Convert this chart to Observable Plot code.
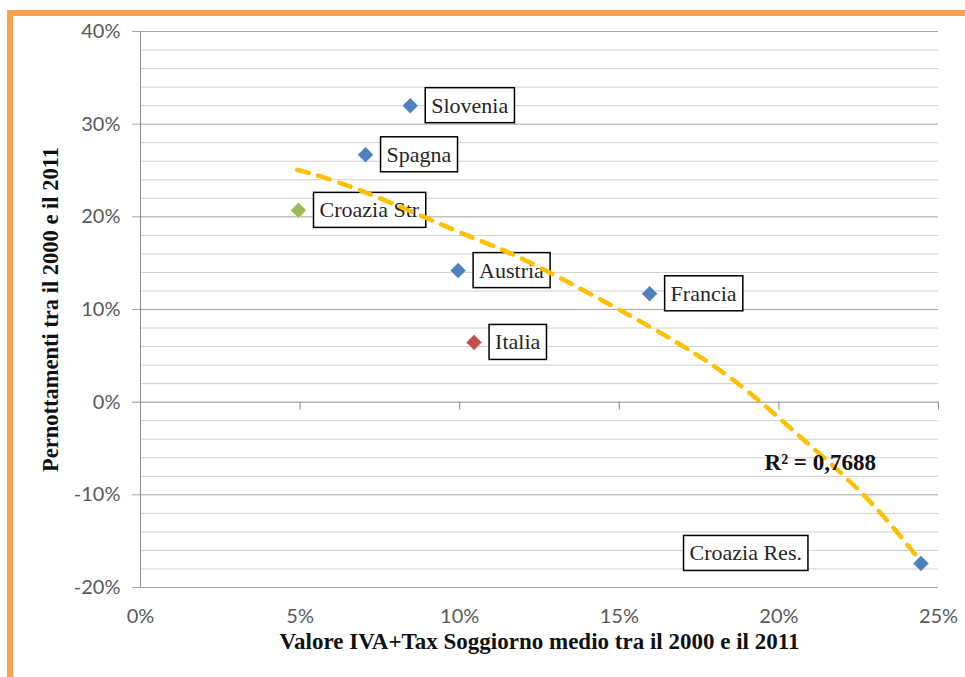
<!DOCTYPE html>
<html><head><meta charset="utf-8">
<script src="https://cdn.jsdelivr.net/npm/d3@7"></script>
<script src="https://cdn.jsdelivr.net/npm/@observablehq/plot@0.6"></script>
<style>
body{margin:0;background:#fff;overflow:hidden}
#wrap{position:relative;width:965px;height:677px;overflow:hidden;background:#fff}
#border{position:absolute;left:7px;top:10px;width:2000px;height:2000px;border-left:6px solid #F9A34F;border-top:6px solid #F9A34F;pointer-events:none}
</style></head><body><div id="wrap"><div id="border"></div></div>
<script>
// ---- data ----
const countries = ["Slovenia", "Spagna", "Croazia Str", "Austria", "Francia", "Italia", "Croazia Res."];
const ivaTax = [8.45, 7.05, 4.95, 9.95, 15.95, 10.45, 24.45];          // % x
const pernottamenti = [32.0, 26.7, 20.7, 14.2, 11.7, 6.45, -17.4];     // % y
const colorGroup = ["blue", "blue", "green", "blue", "blue", "red", "blue"];
// polynomial trendline (order 2)
const trendX = [4.91, 7.0, 10.23, 12.0, 15.04, 18.17, 20.46, 22.65, 24.45];
const trendY = [25.08, 22.7, 18.0, 15.4, 9.9, 3.4, -3.1, -10.0, -17.2];
const yTicks = [-20, -10, 0, 10, 20, 30, 40];
const xTicks = [0, 5, 10, 15, 20, 25];
const yMinor = [-18,-16,-14,-12,-8,-6,-4,-2,2,4,6,8,12,14,16,18,22,24,26,28,32,34,36,38];
const r2Label = "R² = 0,7688";
const xTitle = "Valore IVA+Tax Soggiorno medio tra il 2000 e il 2011";
const yTitle = "Pernottamenti tra il 2000 e il 2011";

const points = countries.map((c, i) => ({name: c, x: ivaTax[i], y: pernottamenti[i], g: colorGroup[i]}));
const trend = trendX.map((x, i) => ({x, y: trendY[i]}));

const colors = {blue: "#4F81BD", green: "#9BBB59", red: "#C0504D"};
const labelFont = "Liberation Serif";
const tickFont = "Lato";

const chart = Plot.plot({
  width: 965, height: 677,
  marginLeft: 140, marginRight: 27, marginTop: 31, marginBottom: 90,
  x: {domain: [0, 25], axis: null},
  y: {domain: [-20, 40], axis: null},
  style: {background: "transparent"},
  marks: [
    Plot.ruleY(yMinor, {y: d => d, stroke: "#cfcfcf", strokeWidth: 1}),
    Plot.ruleY(yTicks.filter(d => d !== 0), {y: d => d, x1: -0.25, x2: 25, stroke: "#a6a6a6", strokeWidth: 1}),
    Plot.ruleY([0], {y: d => d, x1: -0.25, x2: 25, stroke: "#8c8c8c", strokeWidth: 1}),
    Plot.ruleX([0], {x: d => d, y1: -20, y2: 40, stroke: "#8c8c8c", strokeWidth: 1}),
    Plot.ruleX(xTicks.filter(d => d !== 0), {x: d => d, y1: 0, y2: -0.85, stroke: "#8c8c8c", strokeWidth: 1}),
    Plot.text(yTicks, {x: 0, y: d => d, text: d => d + "%", textAnchor: "end", dx: -20, fontSize: 20, fontFamily: tickFont, fill: "#595959"}),
    Plot.text(xTicks, {x: d => d, y: -20, text: d => d + "%", dy: 29, fontSize: 20, fontFamily: tickFont, fill: "#595959"}),
    Plot.text(points.filter(d => d.name !== "Croazia Res."), {x: "x", y: "y", text: "name", textAnchor: "start", dx: 21, fontSize: 22, fontFamily: labelFont, fill: "#262626"}),
    Plot.text(points.filter(d => d.name === "Croazia Res."), {x: "x", y: "y", text: "name", textAnchor: "end", dx: -119, dy: -10, fontSize: 22, fontFamily: labelFont, fill: "#262626"}),
    Plot.line(trend, {x: "x", y: "y", curve: "natural", stroke: "#FFC000", strokeWidth: 4.5, strokeDasharray: "12,10", strokeLinecap: "round"}),
    Plot.dot(points, {x: "x", y: "y", symbol: "diamond2", r: 7.2, fill: d => colors[d.g], stroke: "white", strokeWidth: 0.5}),
    Plot.text([r2Label], {x: 19.55, y: -6.5, text: d => d, textAnchor: "start", fontSize: 23, fontWeight: "bold", fontFamily: labelFont, fill: "#111"}),
    Plot.text([xTitle], {frameAnchor: "bottom", dy: 61, text: d => d, textAnchor: "middle", fontSize: 23, fontWeight: "bold", fontFamily: labelFont, fill: "#111"}),
    Plot.text([yTitle], {frameAnchor: "left", dx: -90, rotate: -90, textAnchor: "middle", text: d => d, fontSize: 22.5, fontWeight: "bold", fontFamily: labelFont, fill: "#111"})
  ]
});
document.getElementById("wrap").insertBefore(chart, document.getElementById("border"));
chart.style.position = "absolute"; chart.style.left = "0"; chart.style.top = "0";

// boxes around data labels
const labelSet = new Set(countries);
chart.querySelectorAll("text").forEach(t => {
  if (!labelSet.has(t.textContent)) return;
  const b = t.getBBox();
  const ns = "http://www.w3.org/2000/svg";
  const rect = document.createElementNS(ns, "rect");
  const padX = 6, padY = 5;
  rect.setAttribute("x", b.x - padX);
  rect.setAttribute("y", b.y - padY);
  rect.setAttribute("width", b.width + 2 * padX);
  rect.setAttribute("height", b.height + 2 * padY);
  rect.setAttribute("fill", "white");
  rect.setAttribute("stroke", "#000");
  rect.setAttribute("stroke-width", "1.5");
  const tr = t.getAttribute("transform");
  if (tr) rect.setAttribute("transform", tr);
  t.parentNode.insertBefore(rect, t);
});
</script></body></html>
